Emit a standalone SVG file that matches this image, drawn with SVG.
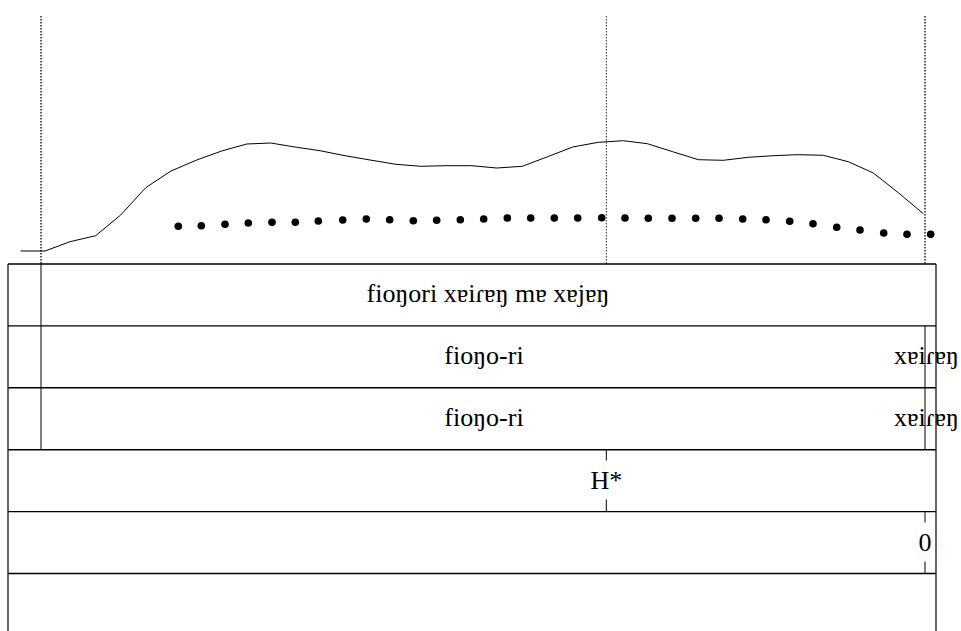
<svg xmlns="http://www.w3.org/2000/svg" width="961" height="631" viewBox="0 0 961 631">
  <style>
    .lbl { font-family: "Liberation Serif", "Times New Roman", "DejaVu Serif", serif; font-size: 26px; fill: #000; text-anchor: middle; }
    .frame { fill: none; stroke: #000; stroke-width: 1.2; }
    .tier { stroke: #000; stroke-width: 1.4; }
    .bound { stroke: #000; stroke-width: 1; }
    .guide { stroke: #000; stroke-width: 1.3; stroke-dasharray: 1.5 1.5; }
    .guide-thin { stroke: #222; stroke-width: 1; stroke-dasharray: 1.5 1.5; }
    .contour { fill: none; stroke: #000; stroke-width: 1; stroke-linejoin: round; }
    .pt { fill: #000; }
  </style>

  <rect width="961" height="631" fill="#fff"/>

  <!-- time guides above the tiers -->
  <g id="guides">
    <line class="guide" x1="41" y1="16" x2="41" y2="264"/>
    <line class="guide-thin" x1="606.3" y1="16" x2="606.3" y2="264"/>
    <line class="guide" x1="925" y1="16" x2="925" y2="264"/>
  </g>

  <!-- intensity contour -->
  <polyline id="contour" class="contour" points="20.7,251 45,251 70,241.7 95.7,235.7 120.7,215 145.7,187.7 171,171 196.7,160 221.7,151 246.7,144 270.7,143 296.7,147.3 320,150.7 345,155.7 370,160 396,164.3 421,166.3 446,165.7 471.7,165.7 496.7,168 522.3,166.3 547.7,156.7 572.7,147 598.3,142.3 623.3,140.7 647.3,143.7 672.7,151.7 698.3,159.7 723.3,160.3 748.3,157.3 773.3,155.7 798.3,154.7 823.3,155.3 848.3,161.7 873.3,173 898.3,192.7 923.3,213.7"/>

  <!-- pitch points -->
  <g id="pitch">
    <circle class="pt" cx="178.3" cy="226.3" r="3.8"/>
    <circle class="pt" cx="201.3" cy="225.7" r="3.8"/>
    <circle class="pt" cx="225" cy="224.3" r="3.8"/>
    <circle class="pt" cx="248.3" cy="223" r="3.8"/>
    <circle class="pt" cx="272" cy="222.3" r="3.8"/>
    <circle class="pt" cx="295.3" cy="222.3" r="3.8"/>
    <circle class="pt" cx="318.3" cy="221" r="3.8"/>
    <circle class="pt" cx="342.7" cy="220" r="3.8"/>
    <circle class="pt" cx="366.3" cy="219" r="3.8"/>
    <circle class="pt" cx="389.7" cy="219.7" r="3.8"/>
    <circle class="pt" cx="413.3" cy="220.7" r="3.8"/>
    <circle class="pt" cx="436.7" cy="220.3" r="3.8"/>
    <circle class="pt" cx="460.3" cy="219.7" r="3.8"/>
    <circle class="pt" cx="483.7" cy="219" r="3.8"/>
    <circle class="pt" cx="507.3" cy="218" r="3.8"/>
    <circle class="pt" cx="530.7" cy="218" r="3.8"/>
    <circle class="pt" cx="554.3" cy="218" r="3.8"/>
    <circle class="pt" cx="577.7" cy="218" r="3.8"/>
    <circle class="pt" cx="601.7" cy="217.7" r="3.8"/>
    <circle class="pt" cx="625" cy="218" r="3.8"/>
    <circle class="pt" cx="648.3" cy="218.3" r="3.8"/>
    <circle class="pt" cx="672" cy="218.3" r="3.8"/>
    <circle class="pt" cx="695.7" cy="218.3" r="3.8"/>
    <circle class="pt" cx="719" cy="218.3" r="3.8"/>
    <circle class="pt" cx="742.7" cy="219" r="3.8"/>
    <circle class="pt" cx="766" cy="219.7" r="3.8"/>
    <circle class="pt" cx="789.7" cy="221.3" r="3.8"/>
    <circle class="pt" cx="813" cy="223.7" r="3.8"/>
    <circle class="pt" cx="836.7" cy="227.3" r="3.8"/>
    <circle class="pt" cx="860" cy="230" r="3.8"/>
    <circle class="pt" cx="883.7" cy="233" r="3.8"/>
    <circle class="pt" cx="907" cy="234.3" r="3.8"/>
    <circle class="pt" cx="930.7" cy="234.3" r="3.8"/>
  </g>

  <!-- tier frame -->
  <g id="frame">
    <line class="frame" x1="8" y1="264" x2="8" y2="631"/>
    <line class="frame" x1="936" y1="264" x2="936" y2="631"/>
    <line class="tier" x1="8" y1="264" x2="936" y2="264"/>
    <line class="tier" x1="8" y1="325.9" x2="936" y2="325.9"/>
    <line class="tier" x1="8" y1="387.8" x2="936" y2="387.8"/>
    <line class="tier" x1="8" y1="449.7" x2="936" y2="449.7"/>
    <line class="tier" x1="8" y1="511.6" x2="936" y2="511.6"/>
    <line class="tier" x1="8" y1="573.5" x2="936" y2="573.5"/>
  </g>

  <!-- tier 1: phrase -->
  <g id="tier1">
    <line class="bound" x1="41" y1="264" x2="41" y2="325.9"/>
    <text class="lbl" x="488" y="302">fioŋori xɐiɾɐŋ mɐ xɐjɐŋ</text>
  </g>

  <!-- tier 2: words -->
  <g id="tier2">
    <line class="bound" x1="41" y1="325.9" x2="41" y2="387.8"/>
    <line class="bound" x1="925" y1="325.9" x2="925" y2="387.8"/>
    <text class="lbl" x="484" y="364">fioŋo-ri</text>
    <text class="lbl" x="926.5" y="364">xɐiɾɐŋ</text>
  </g>

  <!-- tier 3: words -->
  <g id="tier3">
    <line class="bound" x1="41" y1="387.8" x2="41" y2="449.7"/>
    <line class="bound" x1="925" y1="387.8" x2="925" y2="449.7"/>
    <text class="lbl" x="484" y="426">fioŋo-ri</text>
    <text class="lbl" x="926.5" y="426">xɐiɾɐŋ</text>
  </g>

  <!-- tier 4: tones -->
  <g id="tier4">
    <line class="bound" x1="606.3" y1="449.7" x2="606.3" y2="460.5"/>
    <line class="bound" x1="606.3" y1="499.5" x2="606.3" y2="511.6"/>
    <text class="lbl" x="606.3" y="488.5">H*</text>
  </g>

  <!-- tier 5: breaks -->
  <g id="tier5">
    <line class="bound" x1="925" y1="511.6" x2="925" y2="522.5"/>
    <line class="bound" x1="925" y1="561.5" x2="925" y2="573.5"/>
    <text class="lbl" x="925" y="550.5">0</text>
  </g>

  <!-- tier 6: empty -->
  <g id="tier6"/>
</svg>
